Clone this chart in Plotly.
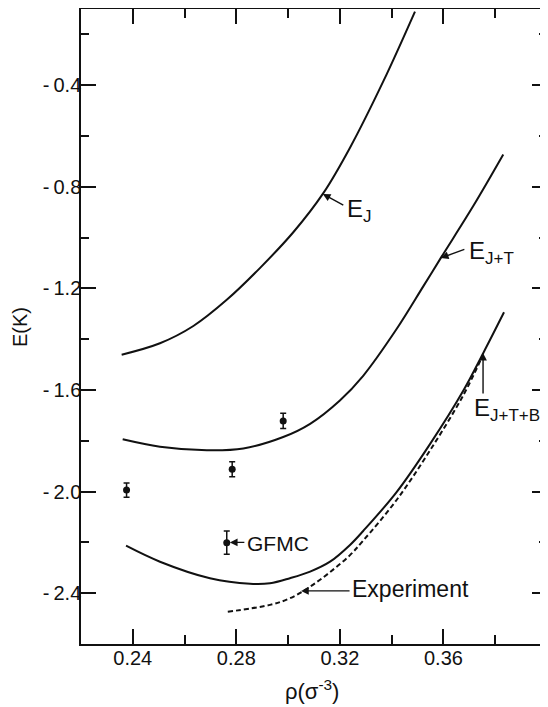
import plotly.graph_objects as go

# ---- data ----
ej_x = [0.2357, 0.2505, 0.2634, 0.2763, 0.2891, 0.3020, 0.3136, 0.3239, 0.3368, 0.3490]
ej_y = [-1.461, -1.416, -1.348, -1.245, -1.120, -0.979, -0.825, -0.646, -0.384, -0.110]

ejt_x = [0.2361, 0.2505, 0.2686, 0.2827, 0.2981, 0.3085, 0.3200, 0.3290, 0.3419, 0.3522, 0.3593, 0.3718, 0.3831]
ejt_y = [-1.794, -1.823, -1.837, -1.830, -1.785, -1.733, -1.641, -1.544, -1.360, -1.192, -1.075, -0.871, -0.673]

ejtb_x = [0.2374, 0.2505, 0.2698, 0.2853, 0.2930, 0.3007, 0.3085, 0.3162, 0.3239, 0.3290,
          0.3419, 0.3548, 0.3677, 0.3754, 0.3834]
ejtb_y = [-2.213, -2.276, -2.341, -2.363, -2.361, -2.341, -2.315, -2.276, -2.210, -2.155,
          -2.002, -1.813, -1.602, -1.454, -1.294]

exp_x = [0.2767, 0.2930, 0.3007, 0.3085, 0.3162, 0.3239, 0.3290, 0.3419, 0.3548, 0.3677, 0.3748]
exp_y = [-2.473, -2.446, -2.420, -2.374, -2.317, -2.250, -2.193, -2.033, -1.838, -1.620, -1.472]

gfmc_x = [0.2376, 0.2784, 0.2981, 0.2763]
gfmc_y = [-1.994, -1.912, -1.722, -2.201]
gfmc_err = [0.028, 0.030, 0.030, 0.046]

x_tickvals = [0.24, 0.28, 0.32, 0.36]
x_ticktext = ["0.24", "0.28", "0.32", "0.36"]
y_tickvals = [-0.4, -0.8, -1.2, -1.6, -2.0, -2.4]
y_ticktext = ["-\u20090.4", "-\u20090.8", "-\u20091.2", "-\u20091.6", "-\u20092.0", "-\u20092.4"]

FONT = "Liberation Sans, Arial, sans-serif"
INK = "#111111"

fig = go.Figure()

line_style = dict(color=INK, width=2, shape="spline", smoothing=1.0)
for xs, ys in [(ej_x, ej_y), (ejt_x, ejt_y), (ejtb_x, ejtb_y)]:
    fig.add_trace(go.Scatter(x=xs, y=ys, mode="lines", line=line_style,
                             showlegend=False, hoverinfo="skip"))

fig.add_trace(go.Scatter(x=exp_x, y=exp_y, mode="lines",
                         line=dict(color=INK, width=2, dash="5px,3px", shape="spline", smoothing=1.0),
                         showlegend=False, hoverinfo="skip"))

fig.add_trace(go.Scatter(x=gfmc_x, y=gfmc_y, mode="markers",
                         marker=dict(color=INK, size=7, symbol="circle"),
                         error_y=dict(type="data", array=gfmc_err, visible=True,
                                      color=INK, thickness=1.5, width=3),
                         showlegend=False, hoverinfo="skip"))

def arrow(x, y, ax, ay):
    fig.add_annotation(x=x, y=y, ax=ax, ay=ay, text="", showarrow=True,
                       arrowhead=2, arrowsize=1.1, arrowwidth=1.4, arrowcolor=INK)

def label(x, y, text, size):
    fig.add_annotation(x=x, y=y, text=text, showarrow=False, xanchor="left", yanchor="middle",
                       font=dict(family=FONT, size=size, color=INK))

arrow(0.3134, -0.828, 22, 12)
arrow(0.3590, -1.080, 25, -9)
arrow(0.3753, -1.454, 0, 42)
arrow(0.2775, -2.200, 16, 0)
arrow(0.3050, -2.391, 50, 0)

sub = lambda s: '<sub><span style="font-size:17px">%s</span></sub>' % s
label(0.3218, -0.892, "E" + sub("J"), 24)
label(0.3690, -1.058, "E" + sub("J+T"), 24)
label(0.3712, -1.675, "E" + sub("J+T+B"), 24)
label(0.2833, -2.206, "GFMC", 21)
label(0.3240, -2.383, "Experiment", 23)

# axis titles
fig.add_annotation(x=-0.131, y=0.499, xref="paper", yref="paper", text="E(K)",
                   xanchor="center", yanchor="middle",
                   textangle=-90, showarrow=False, font=dict(family=FONT, size=20, color=INK))
fig.add_annotation(x=0.4957, y=-0.0724, xref="paper", yref="paper",
                   xanchor="center", yanchor="middle",
                   text="ρ(σ<sup>-3</sup>)", showarrow=False,
                   font=dict(family=FONT, size=22, color=INK))

axis_common = dict(showline=True, linecolor=INK, linewidth=1.5, mirror="allticks",
                   ticks="inside", ticklen=15, tickwidth=1.5, tickcolor=INK,
                   showgrid=False, zeroline=False, automargin=False,
                   tickfont=dict(family=FONT, size=20, color=INK))

fig.update_xaxes(range=[0.22, 0.40], tickmode="array", tickvals=x_tickvals, ticktext=x_ticktext,
                 ticklabelstandoff=-5,
                 minor=dict(ticks="inside", ticklen=9, tickwidth=1.5, tickcolor=INK,
                            tick0=0.22, dtick=0.02, showgrid=False),
                 **axis_common)
fig.update_yaxes(range=[-2.6, -0.1], tickmode="array", tickvals=y_tickvals, ticktext=y_ticktext,
                 ticklabelstandoff=-6,
                 minor=dict(ticks="inside", ticklen=8, tickwidth=1.5, tickcolor=INK,
                            tick0=-0.2, dtick=0.2, showgrid=False),
                 **axis_common)

# the page body adds an 8px margin, so the figure is sized/offset to compensate
fig.update_layout(width=540, height=699, margin=dict(l=73, r=1, t=1, b=63, autoexpand=False),
                  paper_bgcolor="white", plot_bgcolor="white",
                  font=dict(family=FONT, color=INK))

fig.write_html("out.html")
